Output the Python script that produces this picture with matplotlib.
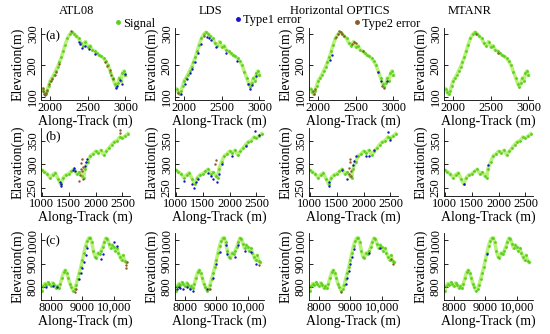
import matplotlib
matplotlib.use("Agg")
import matplotlib.pyplot as plt
from matplotlib.lines import Line2D

plt.rcParams['font.family'] = ['Liberation Serif', 'DejaVu Serif']

# ---- profile (signal) per row ----
a_x = [1900, 1920, 1940, 1960, 1980, 2000, 2025, 2050, 2075, 2100, 2125, 2150, 2175, 2200,
       2230, 2260, 2290, 2320, 2350, 2380, 2410, 2440, 2470, 2500, 2530, 2560, 2590, 2620,
       2650, 2680, 2710, 2740, 2770, 2800, 2830, 2860, 2880, 2900, 2920, 2940, 2960, 2980, 3000]
a_sig = [125, 115, 108, 118, 135, 150, 160, 170, 183, 195, 210, 225, 245, 265,
         285, 298, 305, 300, 292, 285, 270, 262, 275, 258, 262, 248, 245, 238,
         232, 228, 222, 212, 200, 180, 160, 140, 132, 145, 160, 150, 175, 182, 168]

b_x = [1000, 1050, 1100, 1150, 1200, 1250, 1300, 1350, 1400, 1450, 1500, 1550, 1600, 1650,
       1700, 1750, 1780, 1800, 1850, 1900, 1950, 2000, 2050, 2100, 2150, 2200, 2250, 2300,
       2350, 2400, 2450, 2500, 2550, 2600]
b_sig = [288, 284, 280, 272, 278, 282, 270, 258, 272, 278, 280, 285, 290, 280,
         283, 275, 272, 290, 305, 318, 322, 328, 324, 330, 320, 328, 335, 342,
         348, 350, 358, 356, 360, 365]

c_x = [7700, 7750, 7800, 7850, 7900, 7950, 8000, 8050, 8100, 8150, 8200, 8250, 8300, 8350,
       8400, 8450, 8500, 8550, 8600, 8650, 8700, 8750, 8800, 8850, 8900, 8950, 9000, 9050,
       9100, 9150, 9200, 9250, 9300, 9350, 9400, 9450, 9500, 9550, 9600, 9650, 9700, 9750,
       9800, 9850, 9900, 9950, 10000, 10050, 10100, 10150, 10200, 10250, 10300, 10350, 10400]
c_sig = [785, 805, 815, 808, 820, 812, 805, 818, 810, 798, 805, 795, 815, 840,
         862, 872, 860, 840, 815, 800, 785, 792, 810, 835, 860, 885, 915, 945,
         975, 995, 1008, 1010, 990, 955, 930, 925, 945, 940, 955, 970, 990, 1008,
         1005, 985, 965, 980, 970, 955, 965, 945, 930, 915, 935, 910, 905]

# ---- error points (x, y) per panel ----
atl08_a_t1 = [(2380, 275), (2400, 268), (2430, 255), (2460, 262), (2520, 250), (2600, 236),
              (2870, 128), (2890, 135), (2930, 152), (2950, 142), (2990, 172)]
atl08_a_t2 = [(1900, 118), (1910, 128), (1925, 110), (1935, 105), (1950, 112), (1965, 122),
              (1985, 140), (2010, 150), (2030, 158), (2060, 168), (2080, 180), (2120, 205),
              (2730, 210), (2760, 198), (2790, 185), (2810, 170), (2840, 155), (2280, 310)]
lds_a_t1 = [(1960, 110), (2010, 140), (2040, 155), (2080, 175), (2110, 188), (2150, 210),
            (2190, 240), (2230, 268), (2300, 288), (2330, 285), (2360, 280), (2420, 258),
            (2560, 240), (2700, 215), (2850, 140), (2880, 125), (2900, 138), (2960, 165)]
lds_a_t2 = [(1920, 112), (2270, 292)]
hop_a_t1 = [(2160, 218), (2180, 232), (2790, 178), (2830, 150), (2920, 150)]
hop_a_t2 = [(1930, 118), (1950, 110), (1960, 125), (2240, 290), (2260, 300), (2280, 308),
            (2300, 304), (2320, 298), (2340, 292), (2450, 268), (2480, 275), (2500, 270),
            (2600, 245), (2850, 135), (2880, 128)]
mt_a_t1 = []
mt_a_t2 = [(2300, 300), (2600, 240)]

atl08_b_t1 = [(1340, 262), (1350, 255), (1360, 258), (1580, 288), (1600, 292), (1620, 286),
              (1800, 296), (1820, 305), (1840, 312)]
atl08_b_t2 = [(1700, 265), (1710, 278), (1720, 290), (1730, 302), (1740, 312), (1750, 285),
              (1760, 270), (1770, 295), (2450, 372), (2460, 366)]
lds_b_t1 = [(1150, 265), (1300, 258), (1340, 250), (1380, 262), (1420, 270), (1600, 282),
            (1650, 275), (1700, 268), (1760, 262), (1800, 280), (1850, 300), (2050, 318),
            (2300, 338), (2480, 370), (2550, 362)]
lds_b_t2 = [(1720, 300), (1740, 310)]
hop_b_t1 = [(1350, 255), (1360, 262), (1600, 288), (1700, 268), (1800, 298), (1830, 308),
            (1860, 318), (2050, 318), (2100, 317), (2200, 330), (2450, 368), (2500, 352)]
hop_b_t2 = [(1720, 280), (1730, 292), (1740, 305), (1750, 312), (1760, 285), (1770, 275)]
mt_b_t1 = [(1350, 258), (1800, 298)]
mt_b_t2 = []

atl08_c_t1 = [(7850, 800), (8050, 805), (8200, 800), (8900, 835), (8950, 860), (9000, 880),
              (9050, 905), (9100, 935), (9150, 965), (9600, 920), (9650, 940), (10000, 990),
              (10100, 975)]
atl08_c_t2 = [(8750, 780), (8800, 790), (10380, 895), (10400, 880), (10420, 905)]
lds_c_t1 = [(7750, 790), (7800, 800), (7850, 795), (7950, 790), (8050, 800), (8150, 792),
            (8250, 785), (8700, 790), (8900, 840), (9000, 900), (9100, 950), (9300, 980),
            (9350, 940), (9600, 930), (9700, 980), (9900, 955), (10100, 950), (10250, 900)]
lds_c_t2 = [(8800, 790), (10350, 895)]
hop_c_t1 = [(8850, 815), (8900, 840), (8950, 870), (9000, 900), (9050, 930), (9100, 960),
            (9600, 945), (9950, 965)]
hop_c_t2 = [(10300, 920), (10350, 900), (8700, 778)]
mt_c_t1 = [(9050, 940)]
mt_c_t2 = []

methods = ["ATL08", "LDS", "Horizontal OPTICS", "MTANR"]
row_labels = ["(a)", "(b)", "(c)"]
ylabels = ["Elevation(m)", "Elavation(m)", "Elevation(m)"]
a_xticks = [2000, 2500, 3000]
b_xticks = [1000, 1500, 2000, 2500]
c_xticks = [8000, 9000, 10000]
c_xticklabels = ["8000", "9000", "10,000"]
a_yticks = [100, 200, 300]
b_yticks = [250, 300, 350]
c_yticks = [800, 900, 1000]

rows = [
    (a_x, a_sig, [(atl08_a_t1, atl08_a_t2), (lds_a_t1, lds_a_t2), (hop_a_t1, hop_a_t2), (mt_a_t1, mt_a_t2)],
     (1880, 3060), (90, 318), a_xticks, [str(t) for t in a_xticks], a_yticks),
    (b_x, b_sig, [(atl08_b_t1, atl08_b_t2), (lds_b_t1, lds_b_t2), (hop_b_t1, hop_b_t2), (mt_b_t1, mt_b_t2)],
     (985, 2640), (233, 377), b_xticks, [str(t) for t in b_xticks], b_yticks),
    (c_x, c_sig, [(atl08_c_t1, atl08_c_t2), (lds_c_t1, lds_c_t2), (hop_c_t1, hop_c_t2), (mt_c_t1, mt_c_t2)],
     (7680, 10520), (745, 1030), c_xticks, c_xticklabels, c_yticks),
]

green = '#5ccf22'
band = '#b8f07a'
blue = '#1414c8'
brown = '#8a5a2a'

W, H = 550, 334
fig = plt.figure(figsize=(5.5, 3.34), dpi=100)

lefts = [41, 175, 309, 444]
width = 89
tops = [28, 128, 233]
bottoms = [100, 196, 300]
title_x = [77, 210, 340, 470]

for r, (xs, ys, errs, xlim, ylim, xt, xtl, yt) in enumerate(rows):
    for c in range(4):
        ax = fig.add_axes([lefts[c] / W, 1 - bottoms[r] / H, width / W, (bottoms[r] - tops[r]) / H])
        ax.plot(xs, ys, color=band, lw=2.5, zorder=1)
        ax.scatter(xs, ys, s=4, color=green, lw=0, zorder=2)
        t1, t2 = errs[c]
        if t1:
            ax.scatter([p[0] for p in t1], [p[1] for p in t1], s=3, color=blue, lw=0, zorder=3)
        if t2:
            ax.scatter([p[0] for p in t2], [p[1] for p in t2], s=3, color=brown, lw=0, zorder=3)
        ax.set_xlim(xlim)
        ax.set_ylim(ylim)
        ax.set_xticks(xt)
        ax.set_xticklabels(xtl)
        ax.set_yticks(yt)
        ax.set_yticklabels([str(t) for t in yt], rotation=90, va='center')
        ax.tick_params(direction='in', length=3, width=0.6, labelsize=9, pad=1.5)
        for s in ['top', 'right']:
            ax.spines[s].set_visible(False)
        for s in ['left', 'bottom']:
            ax.spines[s].set_linewidth(0.6)
        ax.set_xlabel("Along-Track (m)", fontsize=10, labelpad=0.5)
        ax.set_ylabel(ylabels[r], fontsize=10, labelpad=1.5)
        if c == 0:
            ax.text(0.05, 0.97, row_labels[r], transform=ax.transAxes, fontsize=9.5, va='top')

for c, name in enumerate(methods):
    fig.text(title_x[c] / W, 1 - 11 / H, name, ha='center', va='center', fontsize=9)

# legend entries
leg_items = [("Signal", green, 113, 23.5), ("Type1 error", blue, 233, 20.5), ("Type2 error", brown, 352, 23.5)]
for label, col, px, py in leg_items:
    h = Line2D([], [], marker='o', ls='', color=col, markersize=2.5)
    fig.legend([h], [label], loc='center left', bbox_to_anchor=(px / W, 1 - py / H),
               frameon=False, fontsize=9, handletextpad=0.0, handlelength=0.8,
               borderpad=0, borderaxespad=0)

fig.savefig("out.png", dpi=100)
